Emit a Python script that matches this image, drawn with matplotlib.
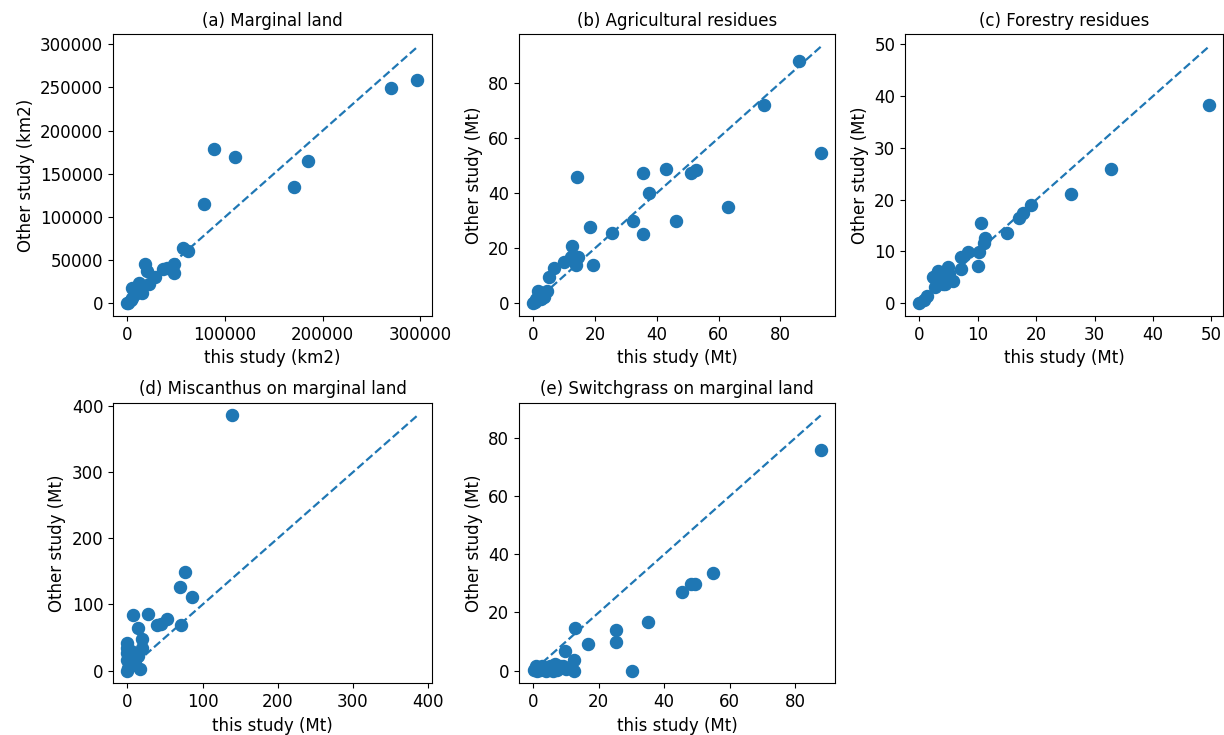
import numpy as np
import matplotlib
matplotlib.use("Agg")
import matplotlib.pyplot as plt

plt.rcParams['font.size'] = 12

# (a) marginal land, km2
land_this = [0, 1000, 3400, 5100, 7800, 14600, 5100, 9500, 11900, 22100, 28200, 18000, 19700,
             36700, 40100, 47900, 47900, 57100, 62200, 78200, 88400, 110200, 171000, 184700,
             269700, 296900]
land_other = [0, 800, 3800, 6600, 10400, 11600, 18100, 16000, 23100, 22000, 30400, 45000, 37300,
              40000, 41200, 45000, 35400, 64400, 60400, 114400, 178800, 169500, 134800, 165200,
              249300, 258800]

# (b) agricultural residues, Mt
agri_this = [0, 0.5, 0.9, 1.5, 1.8, 2.5, 3.4, 4.5, 5.0, 6.7, 9.8, 12.1, 12.5, 13.9, 14.6, 14.1,
             18.3, 19.2, 25.5, 32.4, 35.4, 35.5, 37.5, 42.9, 46.1, 50.9, 52.8, 63.1, 74.7,
             85.9, 93.0]
agri_other = [0, 0.5, 1.5, 4.5, 3.9, 1.5, 2.1, 4.5, 9.5, 12.8, 15.0, 16.8, 20.7, 13.8, 16.6, 45.7,
              27.5, 13.8, 25.3, 29.9, 47.3, 25.1, 40.0, 48.7, 29.9, 47.3, 48.4, 34.8, 71.8,
              87.8, 54.5]

# (c) forestry residues, Mt
forest_this = [0, 0.7, 1.3, 2.4, 2.6, 3.0, 3.1, 3.8, 4.1, 4.4, 4.6, 4.8, 5.1, 5.7, 7.1, 7.1, 8.3,
               10.0, 10.2, 10.6, 11.0, 11.3, 15.0, 17.0, 17.8, 19.1, 26.0, 32.8, 49.5]
forest_other = [0, 0.6, 1.4, 5.0, 3.1, 5.6, 6.2, 5.0, 3.7, 3.7, 5.3, 6.9, 5.6, 4.2, 6.6, 8.9, 9.8,
                7.1, 9.9, 15.4, 11.7, 12.5, 13.6, 16.4, 17.5, 19.0, 21.0, 26.0, 38.2]

# (d) miscanthus on marginal land, Mt
misc_this = [0, 1.3, 16.6, 6.6, 10, 0, 10, 5.7, 14.5, 0, 5, 0, 18.9, 0, 19.8, 13.6, 7, 26.8,
             38.7, 44.4, 53.2, 70.8, 69.5, 76.1, 85.5, 139]
misc_other = [0, 4.1, 2.5, 9.0, 10, 16.6, 16.6, 24, 21.6, 26, 30, 34, 34.2, 41.7, 48.5, 64, 84.5,
              86, 69.4, 70, 78, 68.5, 127, 149.8, 111, 386]

# (e) switchgrass on marginal land, Mt
switch_this = [0.2, 0.7, 1.0, 1.5, 2.0, 2.7, 3.0, 4.0, 4.2, 5.0, 5.7, 6.0, 7.3, 6.7, 8.2, 9.0,
               10.0, 9.8, 12.3, 12.3, 12.8, 16.6, 25.4, 25.4, 30.2, 35.0, 45.3, 48.3, 49.5,
               54.8, 87.8]
switch_other = [0.3, 1.5, 0, 0.3, 0.3, 1.5, 0.5, 0, 0.3, 1.5, 0.9, 0, 0.3, 2.1, 1.5, 1.5,
                0.5, 6.7, 3.8, 0, 14.7, 9.2, 14.1, 9.9, 0, 16.7, 27.0, 29.9, 29.9,
                33.7, 75.9]

panels = [
    ("(a) Marginal land", land_this, land_other, "km2"),
    ("(b) Agricultural residues", agri_this, agri_other, "Mt"),
    ("(c) Forestry residues", forest_this, forest_other, "Mt"),
    ("(d) Miscanthus on marginal land", misc_this, misc_other, "Mt"),
    ("(e) Switchgrass on marginal land", switch_this, switch_other, "Mt"),
]

positions = [
    [0.0923, 0.570, 0.2606, 0.3837],
    [0.4240, 0.570, 0.2582, 0.3837],
    [0.7394, 0.570, 0.2598, 0.3837],
    [0.0923, 0.0703, 0.2606, 0.3818],
    [0.4240, 0.0703, 0.2582, 0.3818],
]

fig = plt.figure(figsize=(12.24, 7.35), dpi=100)

for (title, xs, ys, unit), pos in zip(panels, positions):
    ax = fig.add_axes(pos)
    xs = np.array(xs)
    ys = np.array(ys)
    ax.scatter(xs, ys, s=75, color='C0')
    # 1:1 line up to the largest value in either study
    m = max(xs.max(), ys.max())
    ax.plot([0, m], [0, m], '--', color='C0', lw=1.6)
    ax.set_title(title, fontsize=12)
    ax.set_xlabel('this study (%s)' % unit)
    ax.set_ylabel('Other study (%s)' % unit)

plt.savefig('out.png', dpi=100)
